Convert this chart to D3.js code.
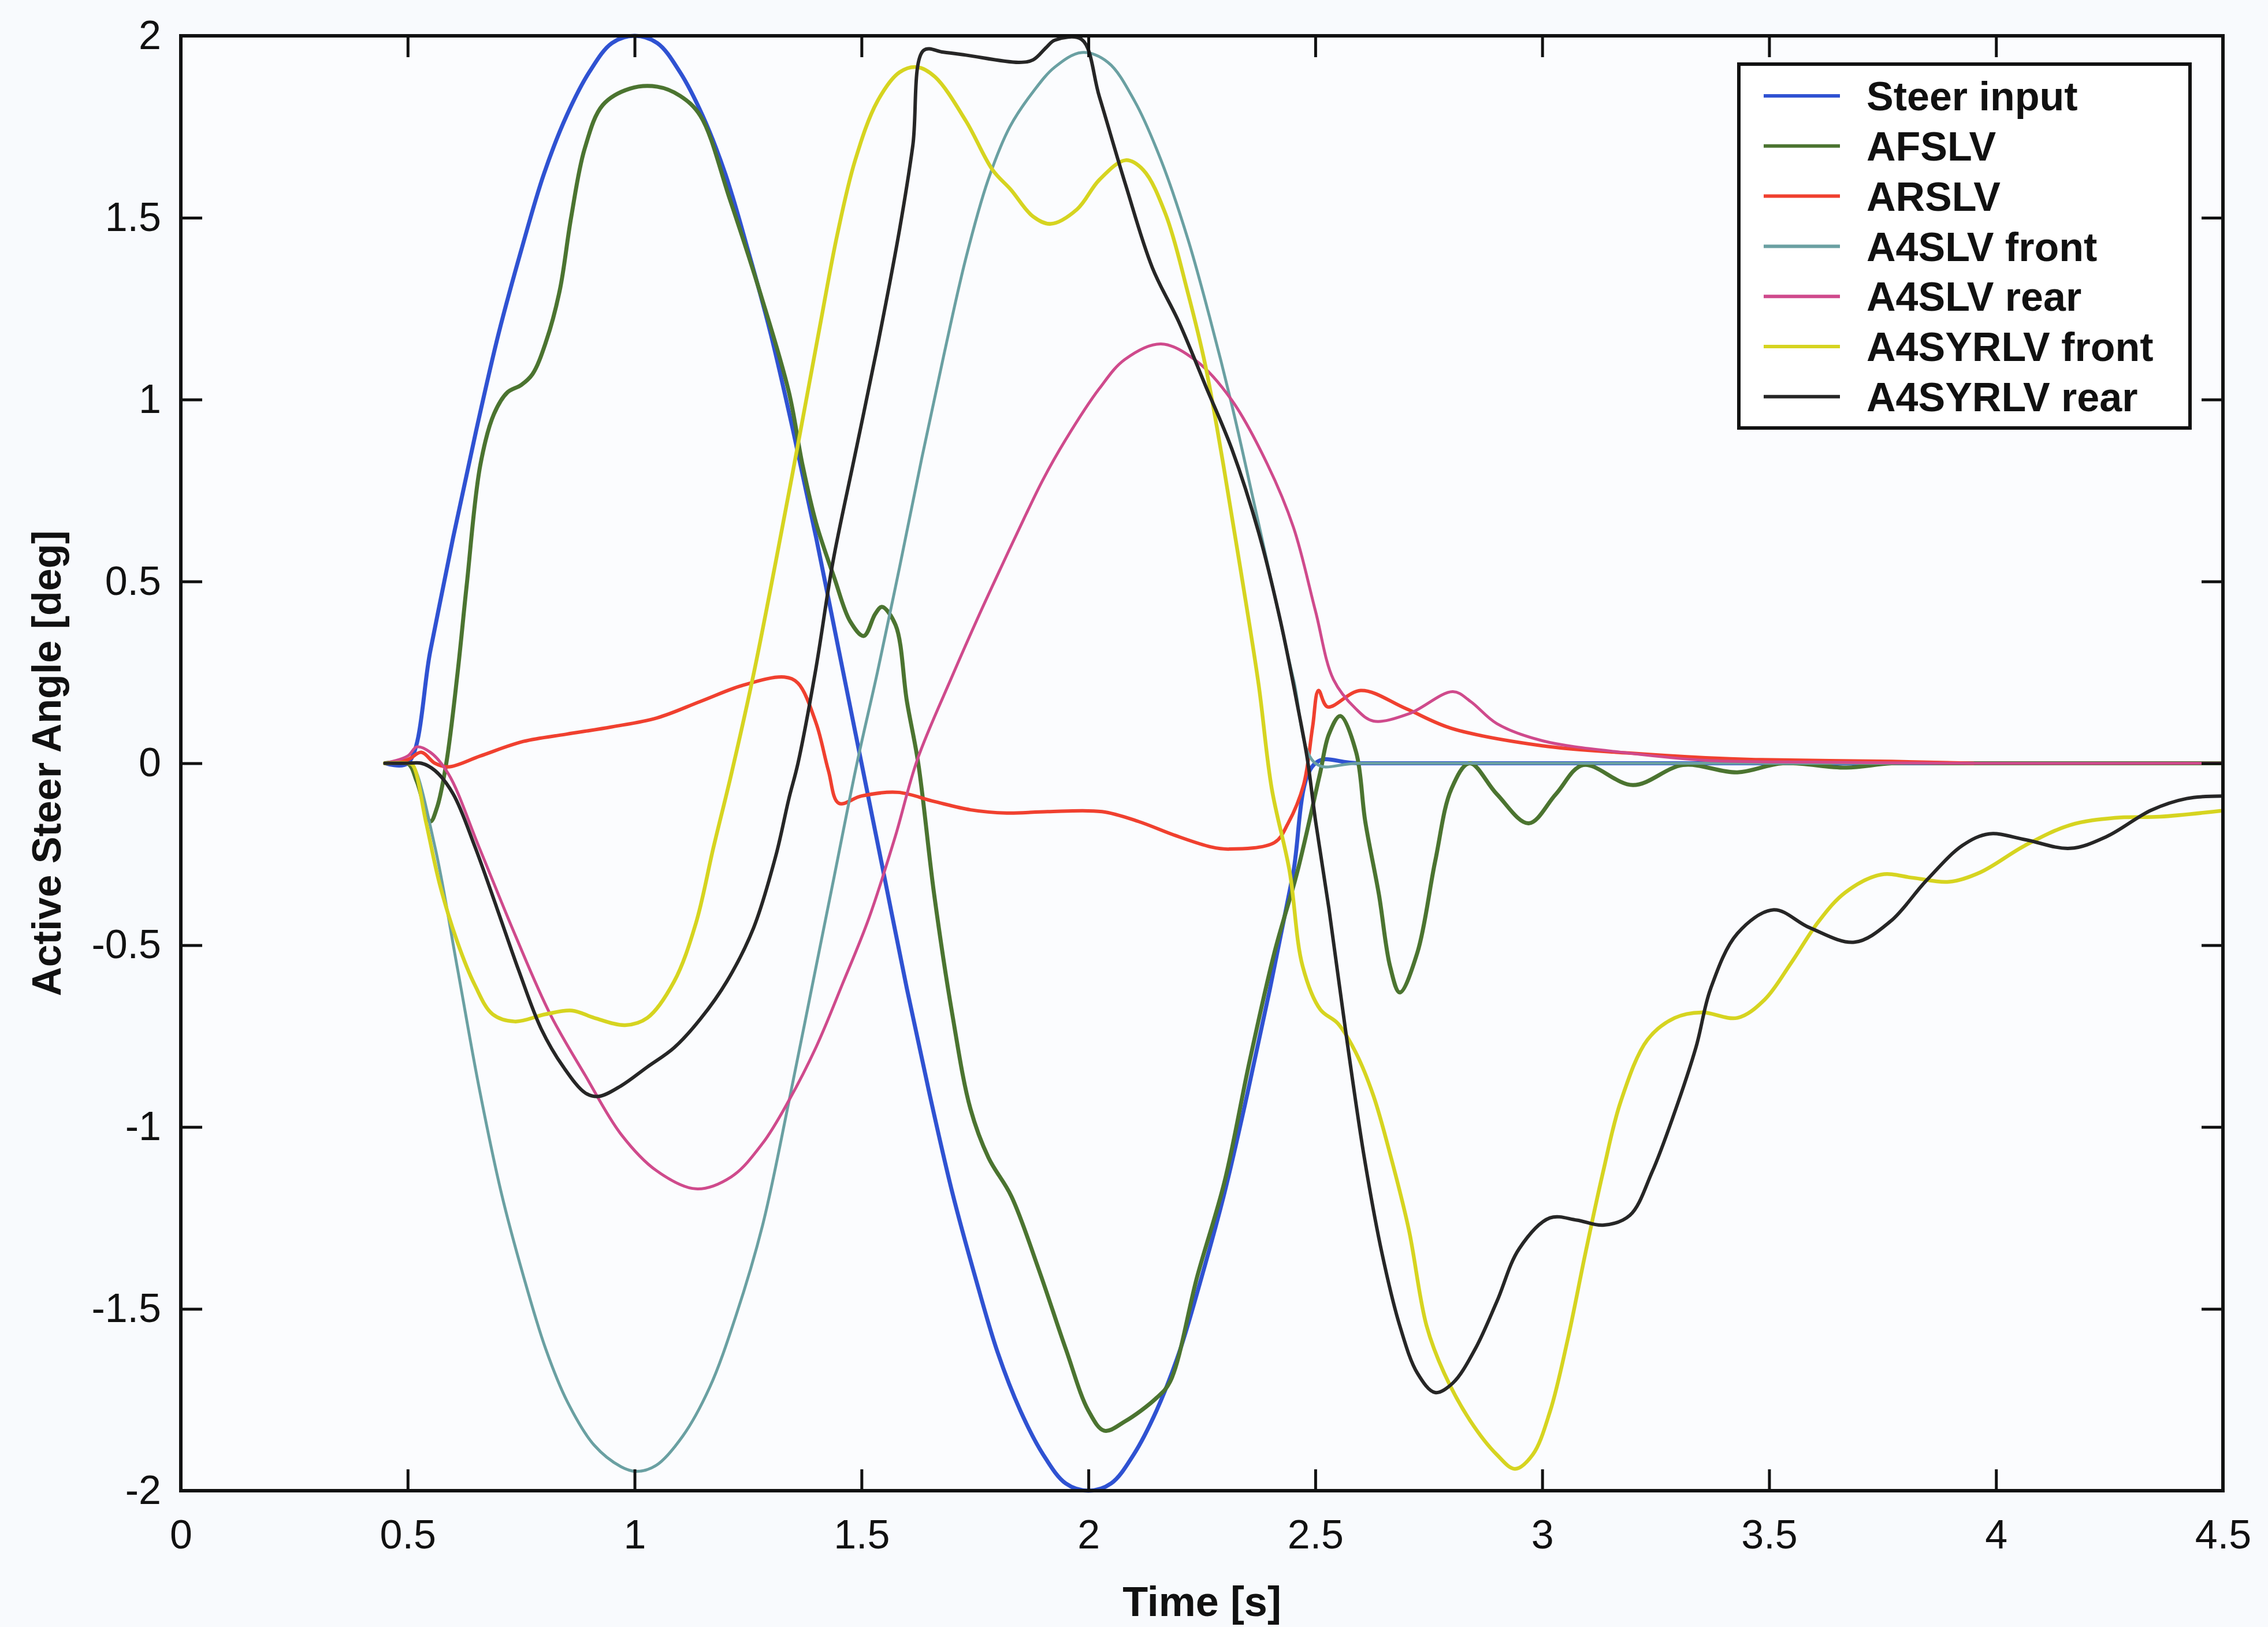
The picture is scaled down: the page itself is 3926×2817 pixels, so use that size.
<!DOCTYPE html>
<html>
<head>
<meta charset="utf-8">
<script src="https://cdn.jsdelivr.net/npm/d3@7"></script>
<style>
html,body{margin:0;padding:0;background:#f8fafd;}
svg{display:block;}
text{font-family:"Liberation Sans",Arial,Helvetica,sans-serif;fill:#111;}
</style>
</head>
<body>
<svg id="chart" width="3926" height="2817"></svg>
<script>
// ---- data (time [s], active steer angle [deg]) ----
const seriesNames = ["Steer input","AFSLV","ARSLV","A4SLV front","A4SLV rear","A4SYRLV front","A4SYRLV rear"];
const seriesColors = ["#2f52d2","#4b7430","#f0402f","#6aa0a2","#cf4a8c","#d6d420","#262626"];
const xTicks = [0,0.5,1,1.5,2,2.5,3,3.5,4,4.5];
const yTicks = [-2,-1.5,-1,-0.5,0,0.5,1,1.5,2];

const steerInput = [[0.45,0],[0.5,0],[0.55,0.31],[0.6,0.62],[0.65,0.91],[0.7,1.18],[0.75,1.41],[0.8,1.62],[0.85,1.78],[0.9,1.9],[0.95,1.98],[1.0,2.0],[1.05,1.98],[1.1,1.9],[1.15,1.78],[1.2,1.62],[1.25,1.41],[1.3,1.18],[1.35,0.91],[1.4,0.62],[1.45,0.31],[1.5,0],[1.55,-0.31],[1.6,-0.62],[1.65,-0.91],[1.7,-1.18],[1.75,-1.41],[1.8,-1.62],[1.85,-1.78],[1.9,-1.9],[1.95,-1.98],[2.0,-2.0],[2.05,-1.98],[2.1,-1.9],[2.15,-1.78],[2.2,-1.62],[2.25,-1.41],[2.3,-1.18],[2.35,-0.91],[2.4,-0.62],[2.45,-0.31],[2.5,0],[2.6,0],[4.5,0]];

const afslv = [[0.45,0],[0.5,0],[0.52,-0.05],[0.55,-0.16],[0.565,-0.12],[0.585,0],[0.61,0.25],[0.63,0.49],[0.66,0.82],[0.69,0.96],[0.72,1.02],[0.75,1.04],[0.775,1.07],[0.805,1.16],[0.835,1.3],[0.86,1.5],[0.89,1.69],[0.93,1.81],[0.99,1.855],[1.05,1.86],[1.1,1.835],[1.145,1.78],[1.21,1.55],[1.28,1.28],[1.34,1.02],[1.37,0.82],[1.4,0.66],[1.44,0.51],[1.475,0.39],[1.505,0.35],[1.53,0.41],[1.545,0.43],[1.575,0.38],[1.6,0.17],[1.625,0],[1.66,-0.36],[1.7,-0.69],[1.74,-0.95],[1.78,-1.085],[1.83,-1.19],[1.89,-1.39],[1.95,-1.61],[2.0,-1.78],[2.035,-1.835],[2.08,-1.81],[2.15,-1.745],[2.18,-1.7],[2.24,-1.41],[2.3,-1.15],[2.355,-0.82],[2.41,-0.52],[2.46,-0.3],[2.51,-0.03],[2.53,0.08],[2.555,0.13],[2.59,0.03],[2.61,-0.16],[2.64,-0.36],[2.665,-0.56],[2.686,-0.63],[2.725,-0.52],[2.764,-0.27],[2.8,-0.07],[2.84,0],[2.9,-0.085],[2.97,-0.165],[3.03,-0.085],[3.09,-0.005],[3.2,-0.06],[3.31,-0.005],[3.43,-0.025],[3.53,0],[3.67,-0.012],[3.77,0],[3.9,0],[4.5,0]];

const arslv = [[0.45,0],[0.5,0.01],[0.53,0.03],[0.56,0],[0.59,-0.01],[0.66,0.02],[0.755,0.06],[0.85,0.08],[0.95,0.1],[1.05,0.125],[1.145,0.17],[1.24,0.215],[1.33,0.237],[1.36,0.22],[1.4,0.11],[1.427,-0.02],[1.45,-0.11],[1.5,-0.09],[1.58,-0.08],[1.66,-0.105],[1.74,-0.128],[1.82,-0.137],[1.91,-0.133],[2.03,-0.133],[2.11,-0.16],[2.19,-0.198],[2.27,-0.23],[2.31,-0.236],[2.41,-0.218],[2.44,-0.165],[2.474,-0.06],[2.494,0.1],[2.507,0.2],[2.527,0.155],[2.6,0.2],[2.7,0.15],[2.8,0.096],[3.0,0.048],[3.19,0.028],[3.36,0.015],[3.47,0.01],[3.77,0.005],[3.95,0]];

const a4slvFront = [[0.45,0],[0.5,0],[0.511,-0.005],[0.56,-0.23],[0.609,-0.56],[0.657,-0.89],[0.706,-1.18],[0.755,-1.41],[0.804,-1.61],[0.852,-1.756],[0.911,-1.875],[0.97,-1.934],[1.004,-1.947],[1.048,-1.93],[1.106,-1.85],[1.165,-1.717],[1.223,-1.52],[1.282,-1.27],[1.34,-0.93],[1.39,-0.62],[1.44,-0.31],[1.49,0],[1.535,0.25],[1.584,0.54],[1.633,0.84],[1.681,1.12],[1.73,1.389],[1.779,1.604],[1.827,1.75],[1.878,1.846],[1.926,1.914],[1.985,1.954],[2.043,1.927],[2.102,1.82],[2.16,1.658],[2.219,1.442],[2.267,1.227],[2.316,0.985],[2.365,0.715],[2.413,0.446],[2.452,0.23],[2.5,0],[2.6,0],[4.5,0]];

const a4slvRear = [[0.45,0],[0.5,0.02],[0.52,0.045],[0.55,0.03],[0.59,-0.03],[0.657,-0.23],[0.736,-0.47],[0.814,-0.69],[0.892,-0.86],[0.97,-1.02],[1.048,-1.12],[1.135,-1.17],[1.213,-1.137],[1.282,-1.045],[1.34,-0.927],[1.4,-0.78],[1.457,-0.61],[1.516,-0.427],[1.574,-0.203],[1.623,0.01],[1.7,0.24],[1.76,0.41],[1.808,0.54],[1.857,0.67],[1.9,0.78],[1.95,0.89],[2.024,1.03],[2.08,1.11],[2.16,1.153],[2.238,1.106],[2.316,0.998],[2.394,0.823],[2.452,0.648],[2.5,0.42],[2.54,0.23],[2.589,0.15],[2.628,0.116],[2.706,0.136],[2.803,0.197],[2.842,0.17],[2.9,0.109],[3.0,0.062],[3.19,0.028],[3.36,0.008],[3.6,0.003],[3.9,0],[4.5,0]];

const a4syrlvFront = [[0.45,0],[0.5,0],[0.511,-0.005],[0.54,-0.16],[0.57,-0.33],[0.609,-0.49],[0.648,-0.61],[0.687,-0.69],[0.736,-0.71],[0.804,-0.69],[0.862,-0.68],[0.911,-0.7],[0.979,-0.72],[1.028,-0.7],[1.087,-0.6],[1.135,-0.44],[1.174,-0.23],[1.213,-0.03],[1.262,0.244],[1.311,0.554],[1.36,0.877],[1.408,1.2],[1.447,1.456],[1.486,1.658],[1.535,1.82],[1.584,1.9],[1.623,1.914],[1.662,1.887],[1.73,1.766],[1.789,1.631],[1.829,1.577],[1.878,1.503],[1.917,1.483],[1.975,1.523],[2.024,1.604],[2.082,1.658],[2.121,1.631],[2.17,1.51],[2.219,1.294],[2.258,1.092],[2.297,0.823],[2.336,0.527],[2.375,0.217],[2.404,-0.07],[2.443,-0.295],[2.472,-0.558],[2.511,-0.677],[2.55,-0.716],[2.589,-0.795],[2.628,-0.914],[2.667,-1.085],[2.706,-1.282],[2.745,-1.546],[2.784,-1.677],[2.842,-1.809],[2.9,-1.901],[2.94,-1.94],[2.979,-1.901],[3.017,-1.783],[3.056,-1.585],[3.095,-1.348],[3.134,-1.124],[3.173,-0.93],[3.232,-0.76],[3.292,-0.7],[3.351,-0.685],[3.43,-0.7],[3.49,-0.65],[3.549,-0.548],[3.609,-0.435],[3.668,-0.355],[3.747,-0.306],[3.817,-0.315],[3.896,-0.326],[3.965,-0.3],[4.064,-0.226],[4.163,-0.17],[4.262,-0.15],[4.361,-0.147],[4.5,-0.13]];

const a4syrlvRear = [[0.45,0],[0.5,0],[0.53,0],[0.56,-0.02],[0.6,-0.084],[0.648,-0.229],[0.697,-0.4],[0.745,-0.571],[0.794,-0.73],[0.843,-0.835],[0.892,-0.907],[0.921,-0.916],[0.97,-0.887],[1.028,-0.835],[1.087,-0.782],[1.145,-0.703],[1.204,-0.598],[1.262,-0.453],[1.311,-0.255],[1.34,-0.097],[1.36,0],[1.399,0.257],[1.437,0.554],[1.486,0.85],[1.535,1.146],[1.584,1.469],[1.613,1.698],[1.637,1.96],[1.68,1.955],[1.73,1.947],[1.847,1.927],[1.878,1.934],[1.907,1.968],[1.926,1.988],[1.985,1.99],[2.024,1.833],[2.082,1.59],[2.141,1.362],[2.199,1.214],[2.258,1.038],[2.316,0.864],[2.375,0.635],[2.423,0.392],[2.462,0.15],[2.482,0.015],[2.501,-0.163],[2.53,-0.4],[2.569,-0.756],[2.608,-1.085],[2.647,-1.348],[2.686,-1.546],[2.725,-1.677],[2.764,-1.73],[2.803,-1.704],[2.852,-1.611],[2.9,-1.48],[2.949,-1.335],[3.017,-1.25],[3.076,-1.256],[3.134,-1.27],[3.193,-1.243],[3.242,-1.124],[3.29,-0.966],[3.339,-0.78],[3.371,-0.62],[3.43,-0.468],[3.51,-0.403],[3.589,-0.452],[3.688,-0.492],[3.767,-0.435],[3.846,-0.323],[3.926,-0.226],[3.985,-0.194],[4.064,-0.21],[4.163,-0.234],[4.243,-0.202],[4.342,-0.129],[4.42,-0.097],[4.5,-0.09]];

const seriesData = [steerInput, afslv, arslv, a4slvFront, a4slvRear, a4syrlvFront, a4syrlvRear];
const seriesWidths = [7, 7, 6, 5, 5, 6.5, 6];

// ---- layout ----
const L = 313, R = 3848, T = 62, B = 2581;
const svg = d3.select("#chart");
const x = d3.scaleLinear().domain([0, 4.5]).range([L, R]);
const y = d3.scaleLinear().domain([-2, 2]).range([B, T]);
const fmt = d => String(d);
const TICK = 37;

svg.append("rect").attr("x",0).attr("y",0).attr("width",3926).attr("height",2817).attr("fill","#f8fafd");
svg.append("rect").attr("x",L).attr("y",T).attr("width",R-L).attr("height",B-T).attr("fill","#fbfcfe");

svg.append("clipPath").attr("id","plotclip").append("rect")
  .attr("x",L).attr("y",T-4).attr("width",R-L).attr("height",B-T+8);

const line = d3.line().x(d => x(d[0])).y(d => y(d[1])).curve(d3.curveCatmullRom.alpha(0.5));
const gLines = svg.append("g").attr("clip-path","url(#plotclip)");
seriesData.forEach((s, i) => {
  gLines.append("path").datum(s).attr("d", line)
    .attr("fill","none").attr("stroke", seriesColors[i])
    .attr("stroke-width", seriesWidths[i]).attr("stroke-linejoin","round").attr("stroke-linecap","round");
});

function styleAxis(g){
  g.select(".domain").remove();
  g.selectAll(".tick line").attr("stroke","#111").attr("stroke-width",5);
  g.selectAll(".tick text").attr("font-size",70).attr("fill","#111")
    .attr("font-family",'"Liberation Sans",Arial,sans-serif');
}
svg.append("g").attr("transform",`translate(0,${B})`)
  .call(d3.axisBottom(x).tickValues(xTicks).tickFormat(fmt).tickSizeInner(-TICK).tickSizeOuter(0).tickPadding(50))
  .call(styleAxis);
svg.append("g").attr("transform",`translate(0,${T})`)
  .call(d3.axisTop(x).tickValues(xTicks).tickFormat("").tickSizeInner(-TICK).tickSizeOuter(0))
  .call(styleAxis);
svg.append("g").attr("transform",`translate(${L},0)`)
  .call(d3.axisLeft(y).tickValues(yTicks).tickFormat(fmt).tickSizeInner(-TICK).tickSizeOuter(0).tickPadding(34))
  .call(styleAxis);
svg.append("g").attr("transform",`translate(${R},0)`)
  .call(d3.axisRight(y).tickValues(yTicks).tickFormat("").tickSizeInner(-TICK).tickSizeOuter(0))
  .call(styleAxis);

svg.append("rect").attr("x",L).attr("y",T).attr("width",R-L).attr("height",B-T)
  .attr("fill","none").attr("stroke","#111").attr("stroke-width",6);

svg.append("text").attr("x",(L+R)/2).attr("y",2798).attr("text-anchor","middle")
  .attr("font-size",72).attr("font-weight","bold").text("Time [s]");
svg.append("text").attr("transform",`translate(105,${(T+B)/2}) rotate(-90)`).attr("text-anchor","middle")
  .attr("font-size",70).attr("font-weight","bold").text("Active Steer Angle [deg]");

const lg = svg.append("g");
lg.append("rect").attr("x",3010).attr("y",111).attr("width",781).attr("height",630)
  .attr("fill","#ffffff").attr("stroke","#111").attr("stroke-width",6);
seriesNames.forEach((n, i) => {
  const cy = 166 + i * 86.8;
  lg.append("line").attr("x1",3053).attr("x2",3185).attr("y1",cy).attr("y2",cy)
    .attr("stroke", seriesColors[i]).attr("stroke-width",6);
  lg.append("text").attr("x",3231).attr("y",cy).attr("dy","0.36em")
    .attr("font-size",70).attr("font-weight","bold").text(n);
});
</script>
</body>
</html>
